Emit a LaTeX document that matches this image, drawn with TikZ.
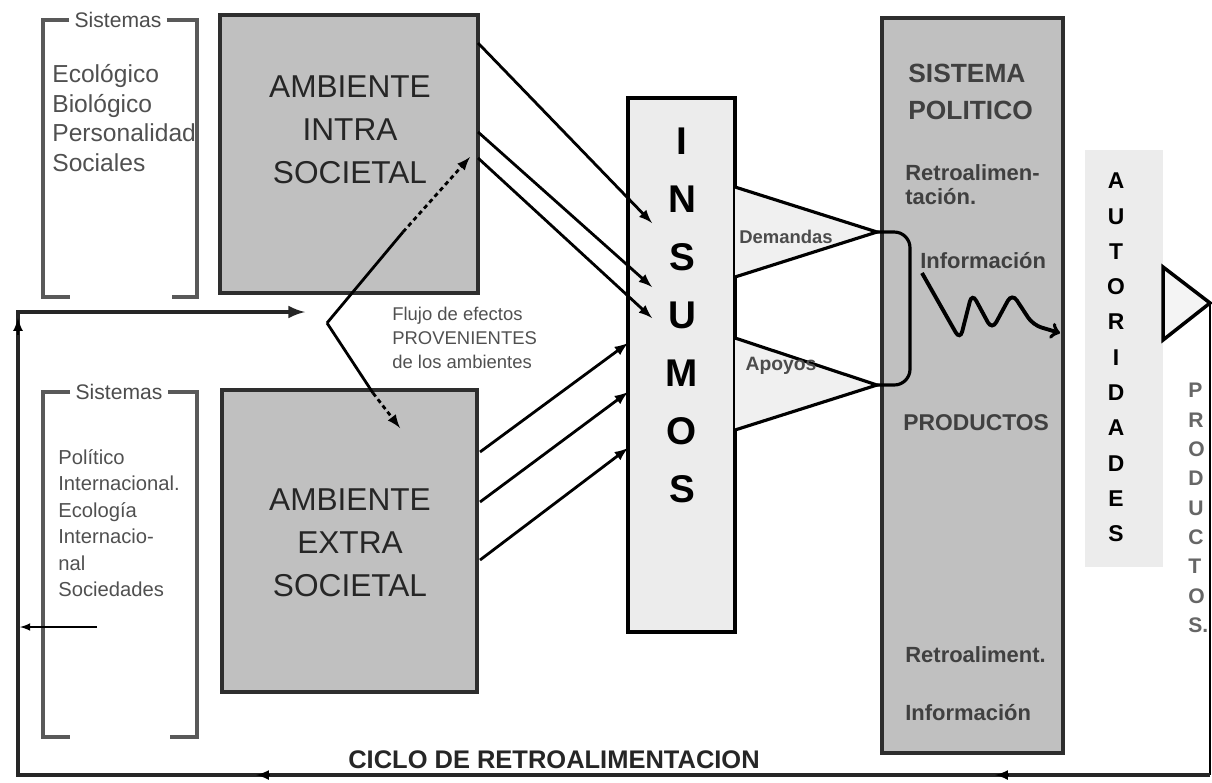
\documentclass[tikz,border=0pt]{standalone}
\usepackage{fontspec}
\setmainfont{Liberation Sans}
\usetikzlibrary{arrows,calc}

\definecolor{boxgray}{HTML}{C0C0C0}
\definecolor{palegray}{HTML}{ECECEC}
\definecolor{edgegray}{HTML}{2E2E2E}
\definecolor{textgray}{HTML}{505050}

\tikzset{
  envbox/.style={draw=edgegray, line width=2.6pt, fill=boxgray, inner sep=0pt},
  bigtext/.style={align=center, font=\fontsize{18}{24.5}\selectfont, text=black!85},
  flow/.style={-latex, line width=1.6pt},
  bracket/.style={draw=black!65, line width=2pt},
  hdrtext/.style={font=\fontsize{12}{14}\selectfont, text=black!70, inner sep=3pt},
  smalltext/.style={align=left, text=textgray, inner sep=0pt, anchor=west},
  sistext/.style={align=left, font=\bfseries\fontsize{12.5}{13.6}\selectfont, text=black!75, inner sep=0pt, anchor=west},
  tri/.style={line width=1.8pt, fill=palegray!80},
}

\begin{document}
\begin{tikzpicture}[x=0.02cm, y=-0.02cm]
\useasboundingbox (0,0) rectangle (1212,782);
% Sistemas (top)
\node [hdrtext] (sisa) at (118,20) {Sistemas};
\draw [bracket] (sisa.west) -- (43,20) -- (43,297) -- (70,297);
\draw [bracket] (sisa.east) -- (197,20) -- (197,297) -- (172,297);
\node [smalltext, font=\fontsize{14}{17}\selectfont] (sisalist) at (52,118) {Ecológico\\Biológico\\Personalidad\\Sociales};
% Sistemas (bottom)
\node [hdrtext] (sisb) at (119,392) {Sistemas};
\draw [bracket] (sisb.west) -- (43,392) -- (43,737) -- (70,737);
\draw [bracket] (sisb.east) -- (197,392) -- (197,737) -- (170,737);
\node [smalltext, font=\fontsize{11.5}{15.1}\selectfont] (sisblist) at (58,523) {Político\\Internacional.\\Ecología\\Internacio-\\nal\\Sociedades};
% Ambientes
\node [envbox, minimum width=5.16cm, minimum height=5.56cm] (intra) at (349,154) {};
\node [bigtext] (intratxt) at (350,130) {AMBIENTE\\INTRA\\SOCIETAL};
\node [envbox, minimum width=5.1cm, minimum height=6.04cm] (extra) at (349.5,541) {};
\node [bigtext] (extratxt) at (350,543) {AMBIENTE\\EXTRA\\SOCIETAL};
% Insumos
\node [draw=black, line width=2.4pt, fill=palegray, minimum width=2.14cm, minimum height=10.68cm, inner sep=0pt] (insumos) at (681.5,365) {};
\node [align=center, font=\bfseries\fontsize{22}{33}\selectfont] (insumostxt) at (682,315) {I\\N\\S\\U\\M\\O\\S};
% Sistema politico
\node [envbox, minimum width=3.62cm, minimum height=14.7cm] (sistema) at (972.5,385.5) {};
\node [sistext, font=\bfseries\fontsize{15}{21}\selectfont] (titulo) at (908,92) {SISTEMA\\POLITICO};
\node [sistext] (retroa) at (905,185) {Retroalimen-\\tación.};
\node [sistext] (infoa) at (920,261) {Información};
\node [sistext, font=\bfseries\fontsize{13}{15}\selectfont] (productos) at (903,423) {PRODUCTOS};
\node [sistext] (retrob) at (905,655) {Retroaliment.};
\node [sistext] (infob) at (905,713) {Información};
% Autoridades
\node [fill=palegray, minimum width=1.56cm, minimum height=8.34cm, inner sep=0pt] (autoridades) at (1124,358.5) {};
\node [align=center, font=\bfseries\fontsize{13}{20.1}\selectfont] (autortxt) at (1116,357.5) {A\\U\\T\\O\\R\\I\\D\\A\\D\\E\\S};
% Productos
\node [align=left, anchor=west, inner sep=0pt, text=black!60, font=\bfseries\fontsize{12}{16.7}\selectfont] (prodtxt) at (1188,508) {P\\R\\O\\D\\U\\C\\T\\O\\S.};
% Intra --> Insumos
\coordinate (ia) at (478,43);
\coordinate (ib) at (478,132);
\coordinate (ic) at (478,158);
\coordinate (na) at (652,223);
\coordinate (nb) at (652,287);
\coordinate (nc) at (652,318);
\draw [flow] (ia) -- (na);
\draw [flow] (ib) -- (nb);
\draw [flow] (ic) -- (nc);
% Extra --> Insumos
\coordinate (ea) at (480,452);
\coordinate (eb) at (480,502);
\coordinate (ec) at (480,560);
\coordinate (ma) at (628,343);
\coordinate (mb) at (628,392);
\coordinate (mc) at (628,448);
\draw [flow] (ea) -- (ma);
\draw [flow] (eb) -- (mb);
\draw [flow] (ec) -- (mc);
% Demandas
\coordinate (dtop) at (735,187);
\coordinate (dbot) at (735,277);
\coordinate (dtip) at (877,232);
\draw [tri] (dtop) -- (dtip) -- (dbot);
\node [font=\bfseries\fontsize{10.5}{12}\selectfont, text=black!70] (demandas) at (786,237) {Demandas};
% Apoyos
\coordinate (atop) at (735,338);
\coordinate (abot) at (735,430);
\coordinate (atip) at (877,385);
\draw [tri] (atop) -- (atip) -- (abot);
\node [font=\bfseries\fontsize{11}{12}\selectfont, text=black!70] (apoyos) at (781,366) {Apoyos};
% Demandas + Apoyos --> sistema
\draw [line width=1.8pt, rounded corners=9pt] (dtip) -- (910,232) -- (910,385) -- (atip);
% Informacion (wave)
\draw [line width=2.2pt, ->, rounded corners=5pt] (922,273) -- (960,340) -- (972,293) -- (992,330) -- (1012,293) -- (1033,325) -- (1060,333);
% Salida
\draw [line width=2pt, fill=palegray!60] (1163,267) -- (1210,303) -- (1163,340) -- cycle;
% Ciclo de retroalimentacion
\coordinate (outtip) at (1210,303);
\coordinate (rb) at (1210,775);
\coordinate (lb) at (18,775);
\coordinate (lt) at (18,312);
\coordinate (loopend) at (305,312);
\draw [line width=0.8pt] (outtip) -- (rb);
\draw [-latex, line width=2.2pt, draw=black!85] (rb) -- (lb) -- (lt) -- (loopend);
\draw [-latex, line width=1.5pt] (270,775) -- (256,775);
\draw [-latex, line width=1.5pt] (1009,775) -- (995,775);
\draw [-latex, line width=1.5pt] (18,335) -- (18,318);
\node [font=\bfseries\fontsize{14.5}{18}\selectfont, text=black!85] (ciclo) at (554,760) {CICLO DE RETROALIMENTACION};
% Flujo --> ambientes
\coordinate (fork) at (327,323);
\coordinate (fa) at (403,232);
\coordinate (fatip) at (470,157);
\coordinate (fb) at (373,393);
\coordinate (fbtip) at (400,428);
\draw [line width=1.6pt] (fork) -- (fa);
\draw [flow, dash pattern=on 2.5pt off 2pt] (fa) -- (fatip);
\draw [line width=1.6pt] (fork) -- (fb);
\draw [flow, dash pattern=on 2.5pt off 2pt] (fb) -- (fbtip);
\node [smalltext, font=\fontsize{10.5}{13.6}\selectfont] (flujo) at (392,338) {Flujo de efectos\\PROVENIENTES\\de los ambientes};
% Sistemas --> ciclo
\coordinate (sa) at (97,627);
\coordinate (sb) at (20,627);
\draw [-latex, line width=1pt] (sa) -- (sb);
\end{tikzpicture}
\end{document}
